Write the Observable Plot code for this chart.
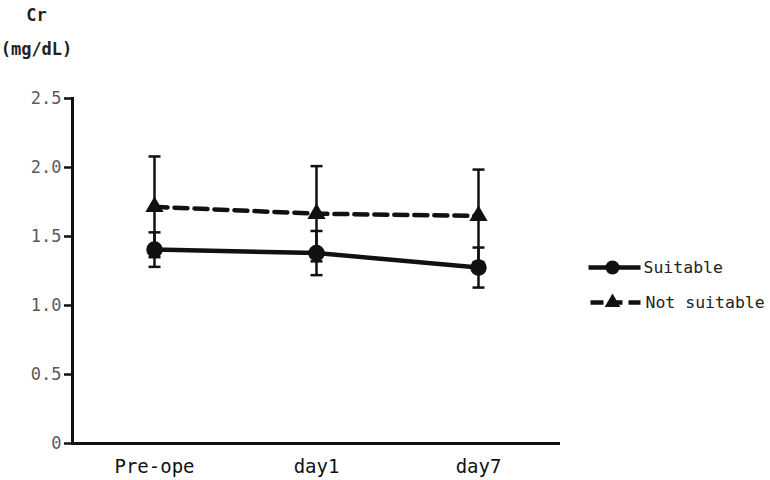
<!DOCTYPE html>
<html>
<head>
<meta charset="utf-8">
<script src="https://cdn.jsdelivr.net/npm/d3@7"></script>
<script src="https://cdn.jsdelivr.net/npm/@observablehq/plot@0.6"></script>
<style>
  html, body { margin: 0; padding: 0; background: #fff; }
  #chart svg { display: block; }
</style>
</head>
<body>
<div id="chart"></div>
<script>
const timepoints = ["Pre-ope", "day1", "day7"];
const suitableMean = [1.405, 1.38, 1.275];
const suitableSD = [0.125, 0.16, 0.145];
const notSuitableMean = [1.715, 1.665, 1.65];
const notSuitableSD = [0.365, 0.345, 0.335];
const yTicks = [0, 0.5, 1.0, 1.5, 2.0, 2.5];
const seriesNames = ["Suitable", "Not suitable"];
const yTitle = "Cr";
const yUnit = "(mg/dL)";

const suitable = timepoints.map((t, i) => ({t, m: suitableMean[i], sd: suitableSD[i]}));
const notSuitable = timepoints.map((t, i) => ({t, m: notSuitableMean[i], sd: notSuitableSD[i]}));

const FONT = "'DejaVu Sans Mono', 'Liberation Mono', monospace";

const capSymbol = {draw(ctx) { ctx.moveTo(-6, 0); ctx.lineTo(6, 0); }};
const legendLine = {draw(ctx) { ctx.moveTo(-24, 0); ctx.lineTo(28, 0); }};
const legendDash = {draw(ctx) { ctx.moveTo(-22, 0); ctx.lineTo(28, 0); }};

function errorMarks(data) {
  return [
    Plot.ruleX(data, {x: "t", y1: d => d.m - d.sd, y2: d => d.m + d.sd, stroke: "#111", strokeWidth: 2.5}),
    Plot.dot(data, {x: "t", y: d => d.m + d.sd, symbol: capSymbol, stroke: "#111", strokeWidth: 2.5, fill: "none"}),
    Plot.dot(data, {x: "t", y: d => d.m - d.sd, symbol: capSymbol, stroke: "#111", strokeWidth: 2.5, fill: "none"})
  ];
}

const chart = Plot.plot({
  width: 770,
  height: 480,
  marginLeft: 72,
  marginRight: 210,
  marginTop: 98,
  marginBottom: 37,
  style: {fontFamily: FONT, background: "#fff"},
  x: {type: "point", domain: timepoints, padding: 0.5},
  y: {domain: [0, 2.5]},
  marks: [
    ...errorMarks(suitable),
    ...errorMarks(notSuitable),
    Plot.line(notSuitable, {x: "t", y: "m", stroke: "#111", strokeWidth: 4.5, strokeDasharray: "13,7"}),
    Plot.line(suitable, {x: "t", y: "m", stroke: "#111", strokeWidth: 4.5}),
    Plot.dot(notSuitable, {x: "t", y: "m", symbol: "triangle", r: 5.8, fill: "#111", stroke: "#111"}),
    Plot.dot(suitable, {x: "t", y: "m", symbol: "circle", r: 7.5, fill: "#111", stroke: "#111"}),
    // axes
    Plot.axisY(yTicks, {tickSize: 8, tickPadding: 3, strokeWidth: 2.5, stroke: "#111", fontSize: 17, fill: "#5a5a5a",
      tickFormat: d => d === 0 ? "0" : d.toFixed(1), label: null}),
    Plot.axisX({tickSize: 0, tickPadding: 16, fontSize: 19, fill: "#111", label: null}),
    Plot.frame({anchor: "left", stroke: "#111", strokeWidth: 3}),
    Plot.ruleY([0], {stroke: "#111", strokeWidth: 3}),
    // y title
    Plot.text([yTitle], {frameAnchor: "top-left", lineAnchor: "middle", dx: -36, dy: -83, fontSize: 17, fontWeight: 600, fill: "#222", textAnchor: "middle"}),
    Plot.text([yUnit], {frameAnchor: "top-left", lineAnchor: "middle", dx: -36, dy: -49, fontSize: 17, fontWeight: 600, fill: "#222", textAnchor: "middle"}),
    // legend
    Plot.dot([seriesNames[0]], {frameAnchor: "top-right", dx: 52, dy: 169, symbol: legendLine, stroke: "#111", strokeWidth: 4.5, fill: "none"}),
    Plot.dot([seriesNames[0]], {frameAnchor: "top-right", dx: 52, dy: 169, symbol: "circle", r: 7, fill: "#111"}),
    Plot.text([seriesNames[0]], {frameAnchor: "top-right", lineAnchor: "middle", dx: 83, dy: 169, textAnchor: "start", fontSize: 16.5, fill: "#222"}),
    Plot.dot([seriesNames[1]], {frameAnchor: "top-right", dx: 52, dy: 204, symbol: legendDash, stroke: "#111", strokeWidth: 4.5, fill: "none", strokeDasharray: "13,6"}),
    Plot.dot([seriesNames[1]], {frameAnchor: "top-right", dx: 52, dy: 204, symbol: "triangle", r: 5.8, fill: "#111"}),
    Plot.text([seriesNames[1]], {frameAnchor: "top-right", lineAnchor: "middle", dx: 85, dy: 204, textAnchor: "start", fontSize: 16.5, fill: "#222"})
  ]
});
document.getElementById("chart").appendChild(chart);
</script>
</body>
</html>
